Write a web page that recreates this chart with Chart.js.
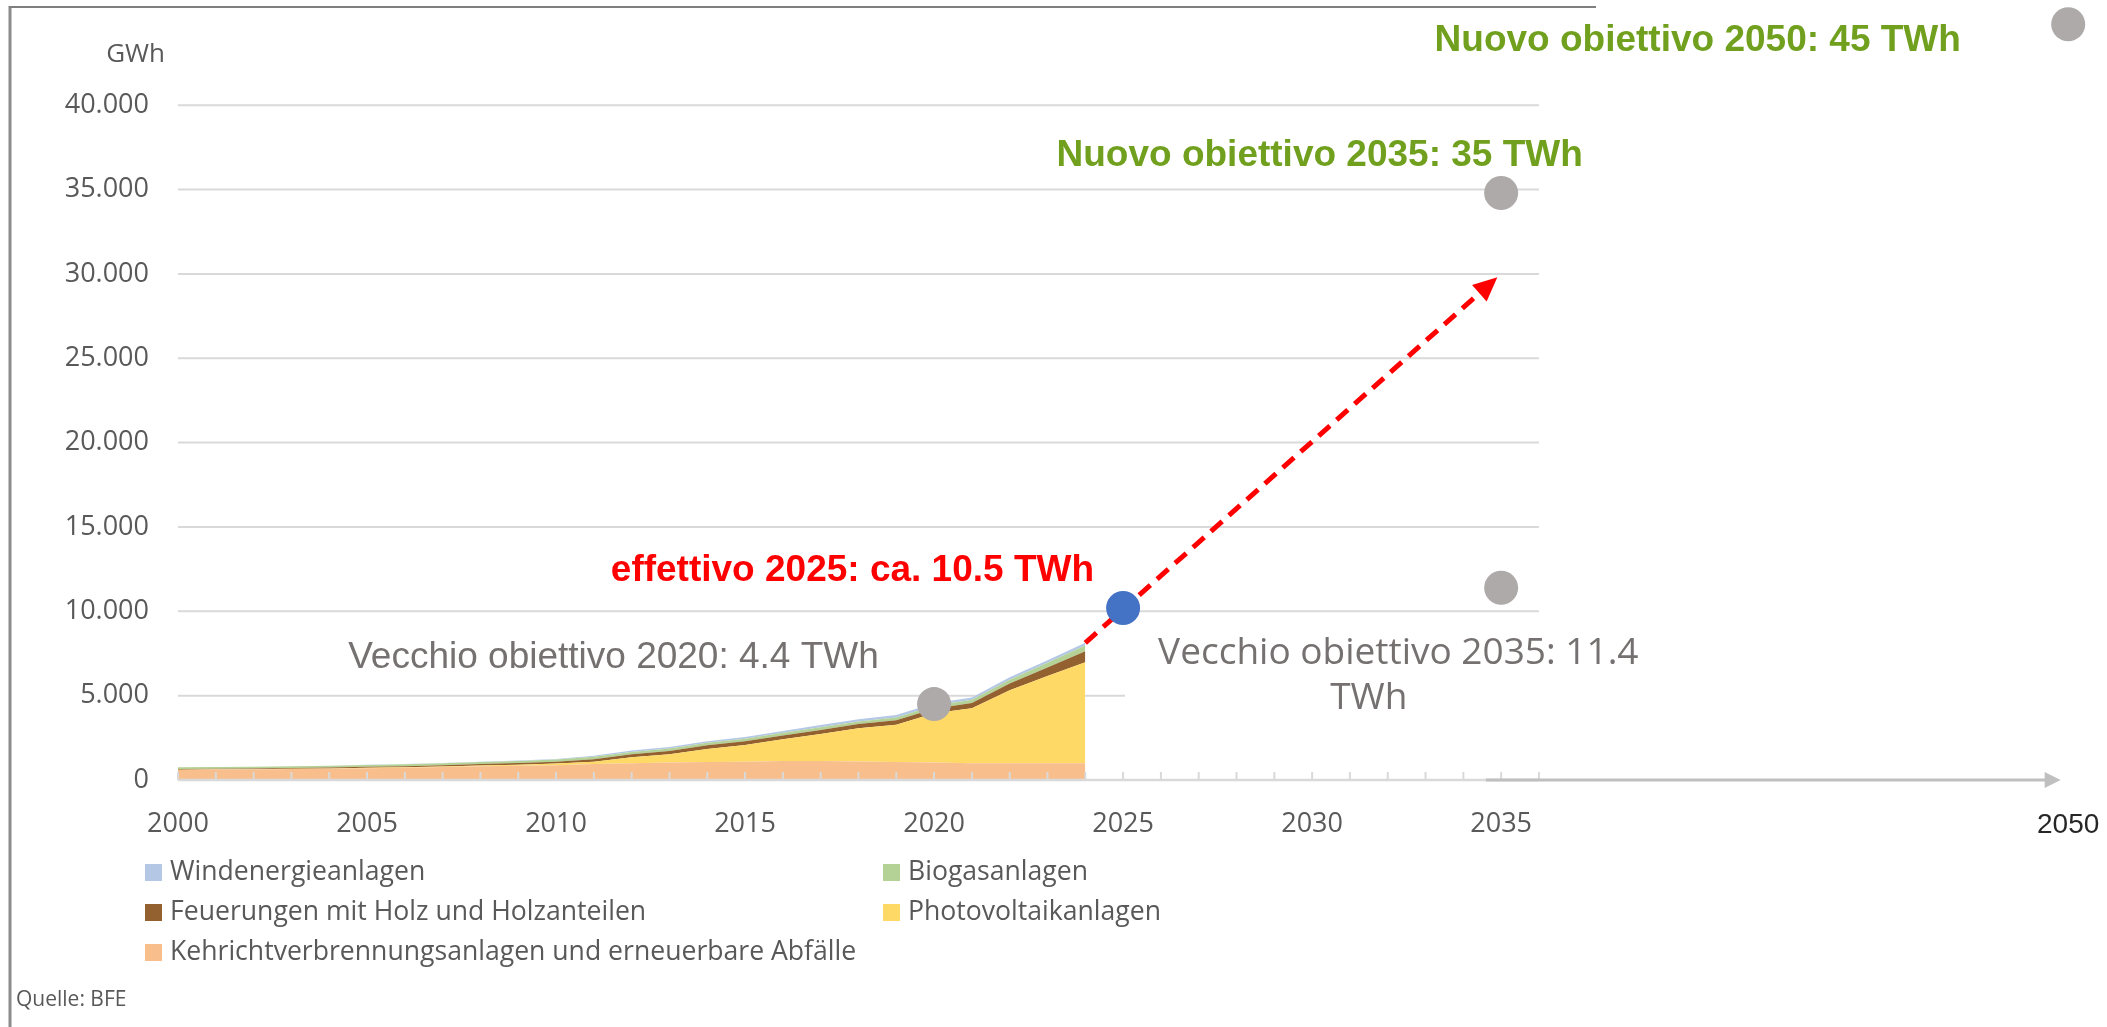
<!DOCTYPE html>
<html lang="it">
<head>
<meta charset="utf-8">
<title>Nuove energie rinnovabili - obiettivi</title>
<script src="https://cdn.jsdelivr.net/npm/chart.js@4.4.1/dist/chart.umd.min.js"></script>
<style>
    html, body { margin: 0; padding: 0; background: #ffffff; }
    #grafico { display: block; }
</style>
</head>
<body>
<canvas id="grafico" width="2107" height="1027"></canvas>
<script>
const anni = [2000, 2001, 2002, 2003, 2004, 2005, 2006, 2007, 2008, 2009, 2010, 2011, 2012,
              2013, 2014, 2015, 2016, 2017, 2018, 2019, 2020, 2021, 2022, 2023, 2024];
const kehricht = [600, 620, 625, 645, 665, 700, 730, 770, 820, 850, 880, 950, 1000,
                  1030, 1060, 1080, 1120, 1120, 1100, 1060, 1030, 1000, 990, 990, 1000];
const photovoltaik = [10, 11, 13, 15, 17, 19, 21, 28, 33, 54, 94, 136, 355,
                      500, 785, 990, 1295, 1610, 1970, 2220, 2930, 3260, 4330, 5170, 5980];
const holz = [40, 42, 45, 50, 55, 60, 70, 80, 90, 100, 110, 150, 170,
              190, 210, 220, 230, 240, 250, 260, 270, 300, 400, 510, 650];
const biogas = [100, 100, 102, 104, 106, 110, 113, 116, 120, 125, 130, 135, 140,
                144, 147, 150, 150, 150, 155, 165, 170, 190, 230, 280, 340];
const wind = [3, 3, 5, 5, 6, 8, 15, 16, 19, 23, 37, 70, 88,
              90, 101, 110, 109, 133, 122, 146, 145, 146, 145, 150, 160];

// Obiettivi e tendenza
const obiettiviVecchi = [{ x: 2020, y: 4500 }, { x: 2035, y: 11400 }];
const obiettiviNuovi = [{ x: 2035, y: 34800 }, { x: 2050, y: 44800 }];
const effettivo = [{ x: 2025, y: 10200 }];
const tendenza = [{ x: 2024, y: 8130 }, { x: 2034.8, y: 29600 }];

// Assi
const tickAnni = [2000, 2005, 2010, 2015, 2020, 2025, 2030, 2035, 2050];
const tickGWh = [0, 5000, 10000, 15000, 20000, 25000, 30000, 35000, 40000];

const nomiSerie = ['Kehrichtverbrennungsanlagen und erneuerbare Abfälle', 'Photovoltaikanlagen',
                   'Feuerungen mit Holz und Holzanteilen', 'Biogasanlagen', 'Windenergieanlagen'];
const testi = ['Nuovo obiettivo 2050: 45 TWh', 'Nuovo obiettivo 2035: 35 TWh',
               'effettivo 2025: ca. 10.5 TWh', 'Vecchio obiettivo 2020: 4.4 TWh',
               'Vecchio obiettivo 2035: 11.4', 'TWh'];

const colori = ['#F8BF8C', '#FFD966', '#93602F', '#B4D296', '#B4C8E6'];
const FONT_ASSI = '"Open Sans", "DejaVu Sans", sans-serif';
const FONT_ARIAL = '"Liberation Sans", Arial, sans-serif';

function formato(v) {
    return String(v).replace(/\B(?=(\d{3})+(?!\d))/g, '.');
}

// Niente margini automatici: l'area del grafico resta fissa
function senzaMargini(s) {
    s.paddingTop = 0;
    s.paddingBottom = 0;
    s.paddingLeft = 0;
    s.paddingRight = 0;
}

const Grafico = {
    chart: null,

    init() {
        const ctx = document.getElementById('grafico');
        this.chart = new Chart(ctx, {
            type: 'line',
            data: { datasets: this.creaDataset() },
            options: {
                responsive: false,
                animation: false,
                events: [],
                layout: { autoPadding: false, padding: { top: 4, right: 1, left: 0, bottom: 0 } },
                plugins: {
                    legend: { display: false },
                    tooltip: { enabled: false }
                },
                scales: {
                    x: {
                        type: 'linear',
                        min: 2000,
                        max: 2051,
                        grid: { display: false, drawTicks: false },
                        border: { display: false },
                        afterBuildTicks: s => { s.ticks = tickAnni.map(v => ({ value: v })); },
                        afterFit: s => { s.height = 247; senzaMargini(s); },
                        ticks: {
                            autoSkip: false,
                            maxRotation: 0,
                            padding: 28,
                            callback: v => String(v),
                            color: c => (c.tick && c.tick.value === 2050) ? '#262626' : '#595959',
                            font: c => (c.tick && c.tick.value === 2050)
                                ? { family: FONT_ARIAL, size: 28 }
                                : { family: FONT_ASSI, size: 27 }
                        }
                    },
                    y: {
                        stacked: true,
                        min: 0,
                        max: 46000,
                        grid: { display: false, drawTicks: false },
                        border: { display: false },
                        afterBuildTicks: s => { s.ticks = tickGWh.map(v => ({ value: v })); },
                        afterFit: s => { s.width = 178; senzaMargini(s); },
                        ticks: {
                            padding: 29,
                            color: '#595959',
                            font: { family: FONT_ASSI, size: 27 },
                            callback: v => formato(v)
                        }
                    },
                    y2: { min: 0, max: 46000, display: false }
                }
            },
            plugins: [this.pluginDisegno()]
        });
    },

    creaDataset() {
        const valori = [kehricht, photovoltaik, holz, biogas, wind];
        const aree = valori.map((serie, k) => ({
            label: nomiSerie[k],
            data: anni.map((a, i) => ({ x: a, y: serie[i] })),
            backgroundColor: colori[k],
            borderColor: colori[k],
            borderWidth: 0,
            pointRadius: 0,
            tension: 0,
            fill: k === 0 ? 'origin' : '-1',
            yAxisID: 'y',
            order: 2
        }));

        // Linea tratteggiata rossa
        aree.push({
            label: 'tendenza',
            data: tendenza,
            borderColor: '#FF0000',
            borderWidth: 5,
            borderDash: [15, 9],
            pointRadius: 0,
            fill: false,
            yAxisID: 'y2',
            order: 1
        });

        // Punti obiettivo
        aree.push({
            label: 'obiettivi',
            data: obiettiviVecchi.concat(obiettiviNuovi),
            showLine: false,
            pointRadius: 17,
            pointBackgroundColor: '#AEAAAA',
            pointBorderWidth: 0,
            fill: false,
            clip: false,
            yAxisID: 'y2',
            order: 0
        });
        aree.push({
            label: 'effettivo',
            data: effettivo,
            showLine: false,
            pointRadius: 17,
            pointBackgroundColor: '#4472C4',
            pointBorderWidth: 0,
            fill: false,
            clip: false,
            yAxisID: 'y2',
            order: 0
        });
        return aree;
    },

    pluginDisegno() {
        const linea = (ctx, x1, y1, x2, y2) => {
            ctx.beginPath();
            ctx.moveTo(x1, y1);
            ctx.lineTo(x2, y2);
            ctx.stroke();
        };
        const scrivi = (ctx, s, x, y, font, colore, allinea) => {
            ctx.font = font;
            ctx.fillStyle = colore;
            ctx.textAlign = allinea || 'center';
            ctx.textBaseline = 'middle';
            ctx.fillText(s, x, y);
        };

        return {
            id: 'disegno',

            beforeDatasetsDraw(chart) {
                const ctx = chart.ctx;
                const px = v => chart.scales.x.getPixelForValue(v);
                const py = v => chart.scales.y.getPixelForValue(v);
                ctx.save();
                // Griglia orizzontale
                ctx.strokeStyle = '#D9D9D9';
                ctx.lineWidth = 2;
                tickGWh.forEach(v => {
                    if (v > 0) linea(ctx, px(2000), py(v), px(2036), py(v));
                });
                // Riquadro bianco del testo "Vecchio obiettivo 2035"
                ctx.fillStyle = '#FFFFFF';
                ctx.fillRect(px(2025.05), py(8800), px(2039.5) - px(2025.05), py(3200) - py(8800));
                ctx.restore();
            },

            afterDatasetsDraw(chart) {
                const ctx = chart.ctx;
                const px = v => chart.scales.x.getPixelForValue(v);
                const py = v => chart.scales.y.getPixelForValue(v);
                ctx.save();

                // Asse x con tacche annuali
                ctx.strokeStyle = '#D9D9D9';
                ctx.lineWidth = 2.5;
                linea(ctx, px(2000), py(0), px(2036), py(0));
                ctx.lineWidth = 2;
                for (let a = 2000; a <= 2036; a++) {
                    linea(ctx, px(a), py(0), px(a), py(0) - 8);
                }

                // Prolungamento dell'asse fino al 2050
                const fine = px(2049.8);
                ctx.strokeStyle = '#BFBFBF';
                ctx.lineWidth = 3;
                linea(ctx, px(2034.6), py(0), fine - 14, py(0));
                ctx.fillStyle = '#BFBFBF';
                ctx.beginPath();
                ctx.moveTo(fine, py(0));
                ctx.lineTo(fine - 16, py(0) - 8);
                ctx.lineTo(fine - 16, py(0) + 8);
                ctx.closePath();
                ctx.fill();

                // Punta della freccia rossa
                const meta = chart.getDatasetMeta(5);
                const p0 = meta.data[0], p1 = meta.data[1];
                const ang = Math.atan2(p1.y - p0.y, p1.x - p0.x);
                const tx = p1.x + 5 * Math.cos(ang), ty = p1.y + 5 * Math.sin(ang);
                ctx.fillStyle = '#FF0000';
                ctx.beginPath();
                ctx.moveTo(tx, ty);
                ctx.lineTo(tx - 24 * Math.cos(ang) + 11 * Math.sin(ang), ty - 24 * Math.sin(ang) - 11 * Math.cos(ang));
                ctx.lineTo(tx - 24 * Math.cos(ang) - 11 * Math.sin(ang), ty - 24 * Math.sin(ang) + 11 * Math.cos(ang));
                ctx.closePath();
                ctx.fill();

                // Testi degli obiettivi
                const verde = '#70A01E';
                scrivi(ctx, testi[0], px(2040.2), py(43800), 'bold 37px ' + FONT_ARIAL, verde);
                scrivi(ctx, testi[1], px(2030.2), py(37030), 'bold 37px ' + FONT_ARIAL, verde);
                scrivi(ctx, testi[2], px(2017.84), py(12380), 'bold 37px ' + FONT_ARIAL, '#FF0000');
                scrivi(ctx, testi[3], px(2011.52), py(7230), '37px ' + FONT_ARIAL, '#767171');
                scrivi(ctx, testi[4], px(2032.28), py(7520), '37px ' + FONT_ASSI, '#767171');
                scrivi(ctx, testi[5], px(2031.5), py(4860), '37px ' + FONT_ASSI, '#767171');

                // Legenda su due colonne
                const voci = [4, 3, 2, 1, 0];
                const colonne = [145, 883];
                const righe = [872, 912, 952];
                voci.forEach((k, i) => {
                    const x = colonne[i % 2], y = righe[Math.floor(i / 2)];
                    const ds = chart.data.datasets[k];
                    ctx.fillStyle = ds.backgroundColor;
                    ctx.fillRect(x, y - 8, 17, 17);
                    scrivi(ctx, ds.label, x + 25, y, '26.6px ' + FONT_ASSI, '#595959', 'left');
                });

                // Unità, fonte e cornice
                scrivi(ctx, 'GWh', 165, 55, '26px ' + FONT_ASSI, '#595959', 'right');
                scrivi(ctx, 'Quelle: BFE', 16, 1000, '21px ' + FONT_ASSI, '#595959', 'left');
                ctx.strokeStyle = '#8C8C8C';
                ctx.lineWidth = 3;
                linea(ctx, 10, 6, 10, 1027);
                ctx.strokeStyle = '#7F7F7F';
                ctx.lineWidth = 2;
                linea(ctx, 9, 7, 1596, 7);

                ctx.restore();
            }
        };
    }
};

Grafico.init();
</script>
</body>
</html>
